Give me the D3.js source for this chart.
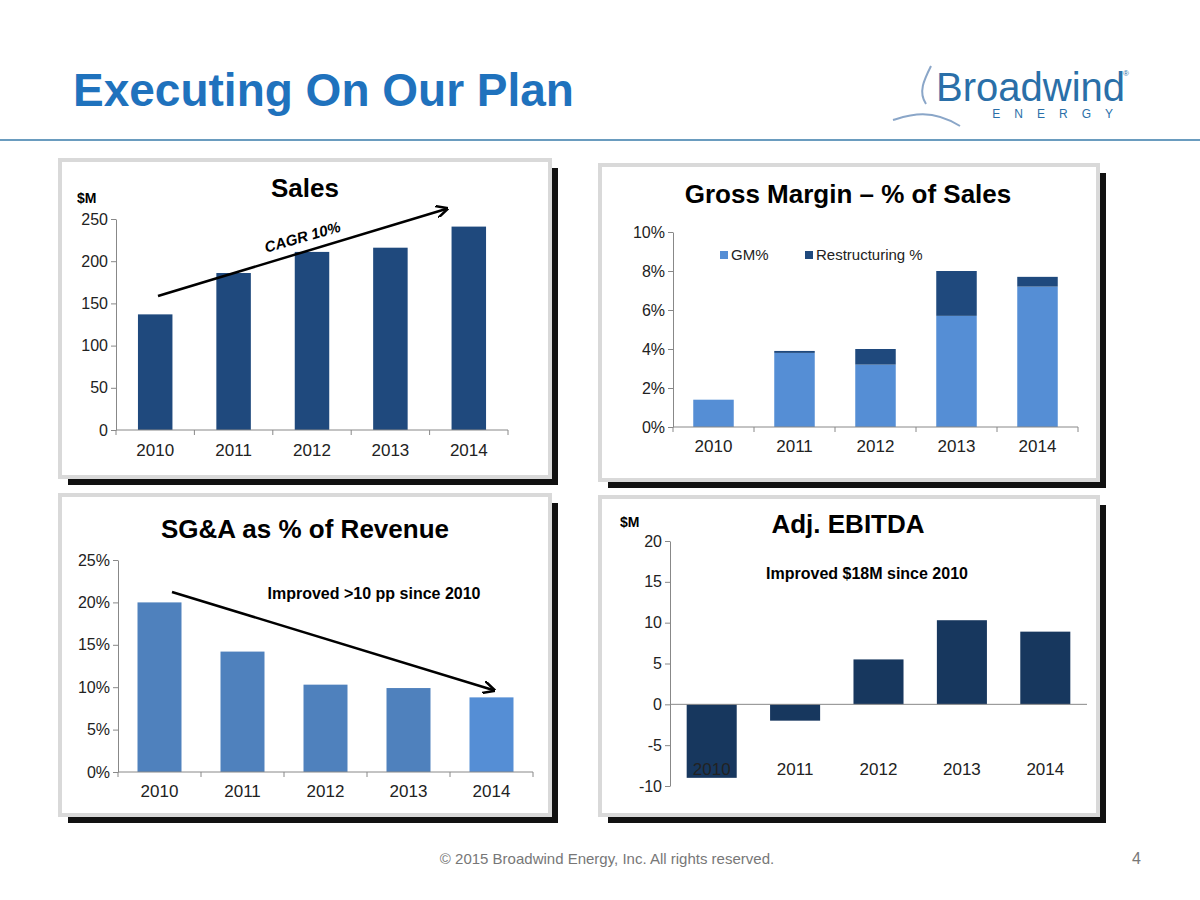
<!DOCTYPE html>
<html><head><meta charset="utf-8">
<script src="https://cdn.jsdelivr.net/npm/d3@7"></script>
<style>body{margin:0;background:#fff}text{font-family:"Liberation Sans",Arial,sans-serif}</style>
</head><body>
<svg id="c" width="1200" height="900"></svg>
<script>
const years=["2010","2011","2012","2013","2014"];
const sales=[137,186,211,216,241];
const gmPct=[1.4,3.8,3.2,5.7,7.2];
const restrPct=[0,0.1,0.8,2.3,0.5];
const sgaPct=[20,14.2,10.3,9.9,8.8];
const ebitda=[-9,-2,5.5,10.3,8.9];
const salesTicks=[0,50,100,150,200,250];
const gmTicks=[0,2,4,6,8,10];
const sgaTicks=[0,5,10,15,20,25];
const ebitdaTicks=[-10,-5,0,5,10,15,20];

const svg=d3.select("#c");
const defs=svg.append("defs");
defs.append("marker").attr("id","ar").attr("viewBox","0 0 10 10").attr("refX",8).attr("refY",5)
 .attr("markerWidth",5).attr("markerHeight",5).attr("orient","auto")
 .append("path").attr("d","M0,0L10,5L0,10").attr("fill","none").attr("stroke","#000").attr("stroke-width",2);

svg.append("text").attr("x",73).attr("y",106).attr("font-size",46).attr("font-weight","bold").attr("fill","#1f72bd").text("Executing On Our Plan");
svg.append("line").attr("x1",0).attr("x2",1200).attr("y1",140).attr("y2",140).attr("stroke","#6a9cbf").attr("stroke-width",2);
svg.append("text").attr("x",936).attr("y",101).attr("font-size",40).attr("fill","#2a6fa8").text("Broadwind");
svg.append("text").attr("x",1123).attr("y",76).attr("font-size",8).attr("fill","#2a6fa8").text("®");
svg.append("text").attr("x",1127).attr("y",118).attr("font-size",12).attr("fill","#2a6fa8").attr("text-anchor","end").attr("letter-spacing",14).text("ENERGY");
svg.append("path").attr("d","M931,66 C924,80 918,92 926,104 M893,120 C910,115 930,108 960,126").attr("fill","none").attr("stroke","#8aa6c8").attr("stroke-width",2);
svg.append("text").attr("x",607).attr("y",864).attr("font-size",15).attr("fill","#777").attr("text-anchor","middle").text("© 2015 Broadwind Energy, Inc. All rights reserved.");
svg.append("text").attr("x",1141).attr("y",864).attr("font-size",16).attr("fill","#777").attr("text-anchor","end").text("4");

function panel(x,y,w,h){
  svg.append("rect").attr("x",x+8).attr("y",y+8).attr("width",w).attr("height",h).attr("fill","#111");
  svg.append("rect").attr("x",x).attr("y",y).attr("width",w).attr("height",h).attr("fill","#fff").attr("stroke","#d9d9d9").attr("stroke-width",4);
}
panel(60,160,490,317);
panel(600,165,498,315);
panel(60,495,490,320);
panel(600,497,498,318);

function band(x0,x1,p){return d3.scaleBand().domain(years).range([x0,x1]).paddingInner(p).paddingOuter(p/2);}
function axes(x0,yScale,ticks,fmt){
  const g=svg.append("g").attr("transform",`translate(${x0},0)`)
   .call(d3.axisLeft(yScale).tickValues(ticks).tickFormat(fmt).tickSize(5).tickSizeOuter(0));
  g.selectAll("text").attr("font-size",16).attr("fill","#222");
  g.selectAll("path,line").attr("stroke","#888");
}
function xaxis(xs,x0,x1,y,ly){
  svg.append("line").attr("x1",x0).attr("x2",x1).attr("y1",y).attr("y2",y).attr("stroke","#888");
  const step=(x1-x0)/years.length;
  for(let i=0;i<=years.length;i++)svg.append("line").attr("x1",x0+i*step).attr("x2",x0+i*step).attr("y1",y).attr("y2",y+5).attr("stroke","#888");
  years.forEach(yr=>svg.append("text").attr("x",xs(yr)+xs.bandwidth()/2).attr("y",ly).attr("text-anchor","middle").attr("font-size",17).attr("fill","#222").text(yr));
}
function title(x,y,t){svg.append("text").attr("x",x).attr("y",y).attr("text-anchor","middle").attr("font-size",26).attr("font-weight","bold").text(t);}

// Chart 1
{
 const x=band(116,508,0.56);
 const y=d3.scaleLinear().domain([0,250]).range([430,219]);
 axes(116,y,salesTicks,d3.format("d"));
 svg.selectAll(".b1").data(sales).join("rect").attr("x",(d,i)=>x(years[i])).attr("width",x.bandwidth()).attr("y",d=>y(d)).attr("height",d=>y(0)-y(d)).attr("fill","#1f497d");
 xaxis(x,116,508,430,456);
 title(305,197,"Sales");
 svg.append("text").attr("x",77).attr("y",203).attr("font-size",14).attr("font-weight","bold").text("$M");
 svg.append("line").attr("x1",158).attr("y1",296).attr("x2",446).attr("y2",209).attr("stroke","#000").attr("stroke-width",2.5).attr("marker-end","url(#ar)");
 svg.append("text").attr("transform","translate(304,242) rotate(-16)").attr("text-anchor","middle").attr("font-size",15).attr("font-weight","bold").attr("font-style","italic").text("CAGR 10%");
}
// Chart 2
{
 const x=band(673,1078,0.5);
 const y=d3.scaleLinear().domain([0,10]).range([427,232]);
 axes(673,y,gmTicks,d=>d+"%");
 svg.selectAll(".b2").data(gmPct).join("rect").attr("x",(d,i)=>x(years[i])).attr("width",x.bandwidth()).attr("y",d=>y(d)).attr("height",d=>y(0)-y(d)).attr("fill","#558ed5");
 svg.selectAll(".b3").data(restrPct).join("rect").attr("x",(d,i)=>x(years[i])).attr("width",x.bandwidth()).attr("y",(d,i)=>y(gmPct[i]+d)).attr("height",(d,i)=>y(gmPct[i])-y(gmPct[i]+d)).attr("fill","#1f497d");
 xaxis(x,673,1078,427,452);
 title(848,203,"Gross Margin – % of Sales");
 svg.append("rect").attr("x",720).attr("y",251).attr("width",8).attr("height",8).attr("fill","#558ed5");
 svg.append("text").attr("x",731).attr("y",260).attr("font-size",15).attr("fill","#222").text("GM%");
 svg.append("rect").attr("x",805).attr("y",251).attr("width",8).attr("height",8).attr("fill","#1f497d");
 svg.append("text").attr("x",816).attr("y",260).attr("font-size",15).attr("fill","#222").text("Restructuring %");
}
// Chart 3
{
 const x=band(118,533,0.47);
 const y=d3.scaleLinear().domain([0,25]).range([772,560]);
 axes(118,y,sgaTicks,d=>d+"%");
 svg.selectAll(".b4").data(sgaPct).join("rect").attr("x",(d,i)=>x(years[i])).attr("width",x.bandwidth()).attr("y",d=>y(d)).attr("height",d=>y(0)-y(d)).attr("fill",(d,i)=>i==4?"#558ed5":"#4f81bd");
 xaxis(x,118,533,772,797);
 title(305,538,"SG&A as % of Revenue");
 svg.append("line").attr("x1",172).attr("y1",592).attr("x2",493).attr("y2",690).attr("stroke","#000").attr("stroke-width",2.5).attr("marker-end","url(#ar)");
 svg.append("text").attr("x",374).attr("y",599).attr("text-anchor","middle").attr("font-size",16).attr("font-weight","bold").text("Improved >10 pp since 2010");
}
// Chart 4
{
 const x=band(670,1087,0.4);
 const y=d3.scaleLinear().domain([-10,20]).range([786,541]);
 axes(670,y,ebitdaTicks,d=>String(d).replace("−","-"));
 svg.selectAll(".b5").data(ebitda).join("rect").attr("x",(d,i)=>x(years[i])).attr("width",x.bandwidth()).attr("y",d=>y(Math.max(0,d))).attr("height",d=>Math.abs(y(0)-y(d))).attr("fill","#17375e");
 svg.append("line").attr("x1",670).attr("x2",1087).attr("y1",y(0)).attr("y2",y(0)).attr("stroke","#888");
 years.forEach(yr=>svg.append("text").attr("x",x(yr)+x.bandwidth()/2).attr("y",775).attr("text-anchor","middle").attr("font-size",17).attr("fill","#222").text(yr));
 title(848,533,"Adj. EBITDA");
 svg.append("text").attr("x",620).attr("y",527).attr("font-size",14).attr("font-weight","bold").text("$M");
 svg.append("text").attr("x",867).attr("y",579).attr("text-anchor","middle").attr("font-size",16).attr("font-weight","bold").text("Improved $18M since 2010");
}
</script></body></html>
